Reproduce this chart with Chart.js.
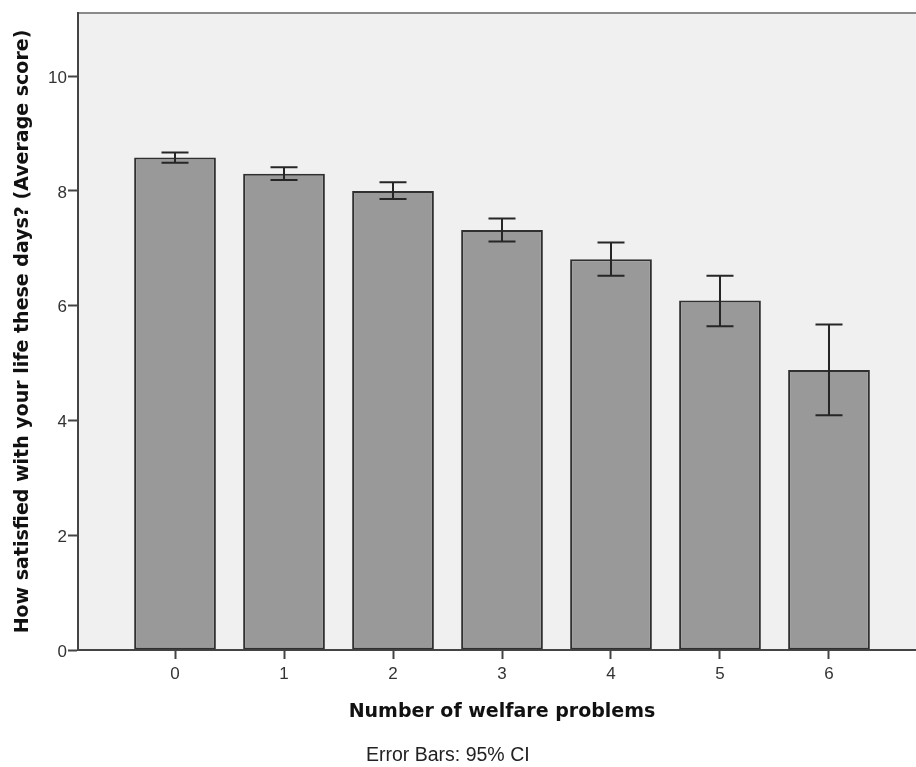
<!DOCTYPE html>
<html>
<head>
<meta charset="utf-8">
<title>Life satisfaction by number of welfare problems</title>
<script src="https://cdn.jsdelivr.net/npm/chart.js@4/dist/chart.umd.min.js"></script>
<style>
  html, body { margin: 0; padding: 0; background: #ffffff; overflow: hidden; }
  canvas { display: block; }
</style>
</head>
<body>
<canvas id="c" width="926" height="767"></canvas>
<script>
// Number of welfare problems (x categories)
const problems = [0, 1, 2, 3, 4, 5, 6];
// Mean life-satisfaction score per group
const meanScore = [8.58, 8.30, 8.00, 7.32, 6.81, 6.09, 4.88];
// 95% confidence interval bounds
const ciLower = [8.49, 8.19, 7.86, 7.12, 6.52, 5.64, 4.09];
const ciUpper = [8.67, 8.41, 8.15, 7.52, 7.10, 6.52, 5.67];
// Value axis tick labels
const yTicks = [0, 2, 4, 6, 8, 10];

const xTitle = 'Number of welfare problems';
const yTitle = 'How satisfied with your life these days? (Average score)';
const footnote = 'Error Bars: 95% CI';

// Grey plot panel with a thin rule along its top edge
const panelPlugin = {
  id: 'panel',
  beforeDraw(chart) {
    const { ctx, chartArea: a } = chart;
    ctx.save();
    ctx.fillStyle = '#f0f0f0';
    ctx.fillRect(a.left, a.top, a.right - a.left, a.bottom - a.top);
    ctx.strokeStyle = '#8a8a8a';
    ctx.lineWidth = 2;
    ctx.beginPath();
    ctx.moveTo(a.left, a.top);
    ctx.lineTo(a.right, a.top);
    ctx.stroke();
    ctx.restore();
  }
};

// Confidence-interval whiskers drawn on top of the bars
const errorBarPlugin = {
  id: 'errorBars',
  afterDatasetsDraw(chart) {
    const { ctx, scales: { x, y } } = chart;
    ctx.save();
    ctx.strokeStyle = '#262626';
    ctx.lineWidth = 2;
    const cap = 13.5;
    problems.forEach((p, i) => {
      const px = x.getPixelForValue(p);
      const top = y.getPixelForValue(ciUpper[i]);
      const bot = y.getPixelForValue(ciLower[i]);
      ctx.beginPath();
      ctx.moveTo(px, top); ctx.lineTo(px, bot);
      ctx.moveTo(px - cap, top); ctx.lineTo(px + cap, top);
      ctx.moveTo(px - cap, bot); ctx.lineTo(px + cap, bot);
      ctx.stroke();
    });
    ctx.restore();
  }
};

// Note under the axis title
const footnotePlugin = {
  id: 'footnote',
  afterDraw(chart) {
    const { ctx } = chart;
    ctx.save();
    ctx.font = '19.5px "Liberation Sans", Arial, sans-serif';
    ctx.fillStyle = '#222222';
    ctx.textAlign = 'left';
    ctx.textBaseline = 'middle';
    ctx.fillText(footnote, 366, 756);
    ctx.restore();
  }
};

new Chart(document.getElementById('c'), {
  type: 'bar',
  data: {
    datasets: [{
      data: problems.map((p, i) => ({ x: p, y: meanScore[i] })),
      backgroundColor: '#999999',
      borderColor: '#303030',
      borderWidth: 2,
      borderSkipped: false,
      barPercentage: 0.75,
      categoryPercentage: 1.0
    }]
  },
  options: {
    responsive: false,
    animation: false,
    layout: { padding: { top: 13, left: 0, right: 0, bottom: 0 } },
    plugins: {
      legend: { display: false },
      tooltip: { enabled: false }
    },
    scales: {
      x: {
        type: 'linear',
        offset: false,
        min: -0.89,
        max: 6.89,
        afterBuildTicks(scale) { scale.ticks = problems.map(v => ({ value: v })); },
        afterFit(scale) { scale.height = 117; },
        grid: {
          offset: false,
          drawOnChartArea: false,
          drawTicks: true,
          tickLength: 9,
          tickWidth: 2,
          tickColor: '#444444'
        },
        border: { display: true, color: '#444444', width: 2 },
        ticks: {
          padding: 5,
          color: '#333333',
          font: { family: '"Liberation Sans", Arial, sans-serif', size: 17 },
          callback: v => String(v)
        },
        title: {
          display: true,
          text: xTitle,
          color: '#111111',
          font: { family: '"DejaVu Sans", sans-serif', size: 19, weight: 'bold' },
          padding: { top: 0, bottom: 43.6 }
        }
      },
      y: {
        min: 0,
        max: 11.1,
        afterBuildTicks(scale) { scale.ticks = yTicks.map(v => ({ value: v })); },
        afterFit(scale) { scale.width = 78; },
        grid: {
          drawOnChartArea: false,
          drawTicks: true,
          tickLength: 10,
          tickWidth: 2,
          tickColor: '#444444'
        },
        border: { display: true, color: '#444444', width: 2 },
        ticks: {
          padding: 1,
          labelOffset: 2,
          color: '#333333',
          font: { family: '"Liberation Sans", Arial, sans-serif', size: 17 },
          callback: v => String(v)
        },
        title: {
          display: true,
          text: yTitle,
          color: '#111111',
          font: { family: '"DejaVu Sans", sans-serif', size: 19, weight: 'bold' },
          padding: { top: 11.6, bottom: 0 }
        }
      }
    }
  },
  plugins: [panelPlugin, errorBarPlugin, footnotePlugin]
});
</script>
</body>
</html>
